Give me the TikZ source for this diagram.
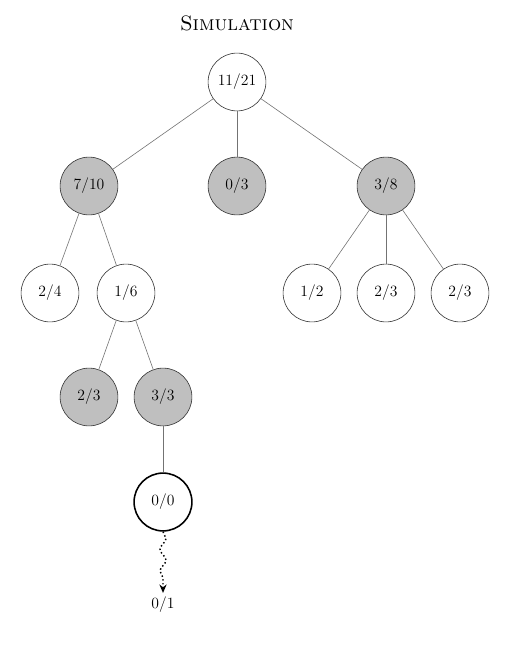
\documentclass[tikz,border=0pt]{standalone}
\usetikzlibrary{decorations.pathmorphing,arrows.meta}
\begin{document}
\begin{tikzpicture}[x=0.83pt,y=-0.83pt,
  every node/.style={font=\fontsize{13}{15}\selectfont},
  nd/.style={circle,draw=black!80,line width=0.5pt,minimum size=48pt,inner sep=0pt,fill=white},
  sel/.style={nd,fill=gray!50},
  newnd/.style={nd,line width=1.3pt,draw=black},
  edge/.style={draw=black!55,line width=0.5pt}]
\useasboundingbox (0,0) rectangle (512,658);
\node[font=\LARGE] (title) at (237,23) {\textsc{Simulation}};
\node[nd] (r) at (237,82) {11/21};
\node[sel] (a) at (89,186) {7/10};
\node[sel] (b) at (237,186) {0/3};
\node[sel] (c) at (386,186) {3/8};
\node[nd] (a1) at (50,293) {2/4};
\node[nd] (a2) at (126,293) {1/6};
\node[nd] (c1) at (312,293) {1/2};
\node[nd] (c2) at (386,293) {2/3};
\node[nd] (c3) at (460,293) {2/3};
\node[sel] (d1) at (89,397) {2/3};
\node[sel] (d2) at (163,397) {3/3};
\node[newnd] (e) at (163,502) {0/0};
\node (f) at (163,605) {0/1};
\draw[edge] (r) -- (a);
\draw[edge] (r) -- (b);
\draw[edge] (r) -- (c);
\draw[edge] (a) -- (a1);
\draw[edge] (a) -- (a2);
\draw[edge] (c) -- (c1);
\draw[edge] (c) -- (c2);
\draw[edge] (c) -- (c3);
\draw[edge] (a2) -- (d1);
\draw[edge] (a2) -- (d2);
\draw[edge] (d2) -- (e);
\draw[line width=1.2pt,dotted,-{Stealth[length=7pt,width=6pt]},
  decorate,decoration={snake,amplitude=2.5pt,segment length=18pt,post length=8pt}]
  (e) -- (f);
\end{tikzpicture}
\end{document}
